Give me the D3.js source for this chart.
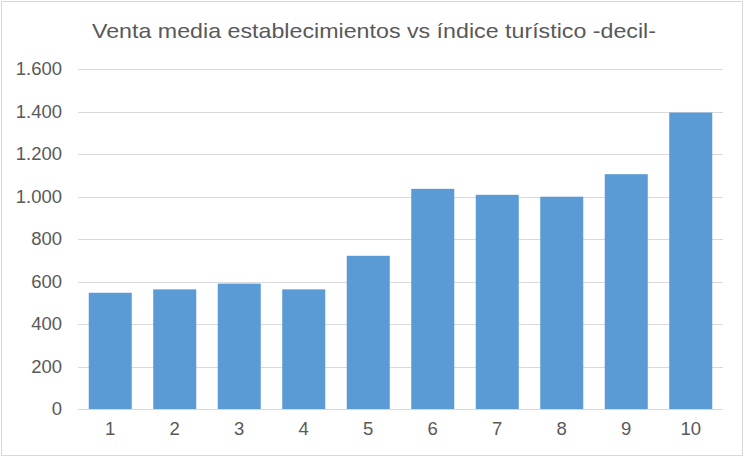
<!DOCTYPE html>
<html>
<head>
<meta charset="utf-8">
<script src="https://cdn.jsdelivr.net/npm/d3@7"></script>
<style>
  body { margin: 0; background: #fff; }
  text { font-family: "Liberation Sans", Arial, sans-serif; fill: #595959; }
</style>
</head>
<body>
<script>
// data
var deciles = ["1", "2", "3", "4", "5", "6", "7", "8", "9", "10"];
var ventaMedia = [547, 563, 590, 563, 721, 1036, 1008, 999, 1105, 1395];
var yTicks = [0, 200, 400, 600, 800, 1000, 1200, 1400, 1600];
var title = "Venta media establecimientos vs índice turístico -decil-";

var svgWidth = 748;
var svgHeight = 458;

var margin = { top: 69, right: 25, bottom: 49, left: 78 };
var width = svgWidth - margin.left - margin.right;
var height = svgHeight - margin.top - margin.bottom;

var svg = d3.select("body")
  .append("svg")
  .attr("width", svgWidth)
  .attr("height", svgHeight);

// chart outline
svg.append("rect")
  .attr("x", 1.5).attr("y", 1.5)
  .attr("width", 741).attr("height", 454)
  .attr("fill", "#fff")
  .attr("stroke", "#d9d9d9");

svg.append("text")
  .attr("x", 374)
  .attr("y", 38)
  .attr("text-anchor", "middle")
  .attr("textLength", 564)
  .attr("lengthAdjust", "spacingAndGlyphs")
  .style("font-size", "21px")
  .text(title);

var chartGroup = svg.append("g")
  .attr("transform", `translate(${margin.left}, ${margin.top})`);

var xScale = d3.scaleBand()
  .domain(deciles)
  .range([0, width])
  .paddingInner(0.333)
  .paddingOuter(0.1665);

var yScale = d3.scaleLinear()
  .domain([0, 1600])
  .range([height, 0]);

// gridlines
chartGroup.append("g")
  .selectAll("line")
  .data(yTicks)
  .enter()
  .append("line")
  .attr("x1", 0)
  .attr("x2", width)
  .attr("y1", d => Math.round(yScale(d)) + 0.5)
  .attr("y2", d => Math.round(yScale(d)) + 0.5)
  .attr("stroke", "#d9d9d9")
  .attr("stroke-width", 1);

// y axis labels
var leftAxis = d3.axisLeft(yScale)
  .tickValues(yTicks)
  .tickSize(0)
  .tickPadding(16)
  .tickFormat(d => d3.format(",")(d).replace(/,/g, "."));

var yAxisG = chartGroup.append("g").call(leftAxis);
yAxisG.select(".domain").remove();
yAxisG.selectAll("text").style("font-size", "18.5px").style("fill", "#595959")
  .style("font-family", "Liberation Sans, Arial, sans-serif");

// bars
chartGroup.selectAll("rect.bar")
  .data(ventaMedia)
  .enter()
  .append("rect")
  .attr("class", "bar")
  .attr("x", (d, i) => xScale(deciles[i]))
  .attr("y", d => yScale(d))
  .attr("width", xScale.bandwidth())
  .attr("height", d => height - yScale(d))
  .attr("fill", "#5b9bd5");

// x axis labels
var bottomAxis = d3.axisBottom(xScale)
  .tickSize(0)
  .tickPadding(13);

var xAxisG = chartGroup.append("g")
  .attr("transform", `translate(0, ${height})`)
  .call(bottomAxis);
xAxisG.select(".domain").remove();
xAxisG.selectAll("text").style("font-size", "18.5px").style("fill", "#595959")
  .style("font-family", "Liberation Sans, Arial, sans-serif");
</script>
</body>
</html>
